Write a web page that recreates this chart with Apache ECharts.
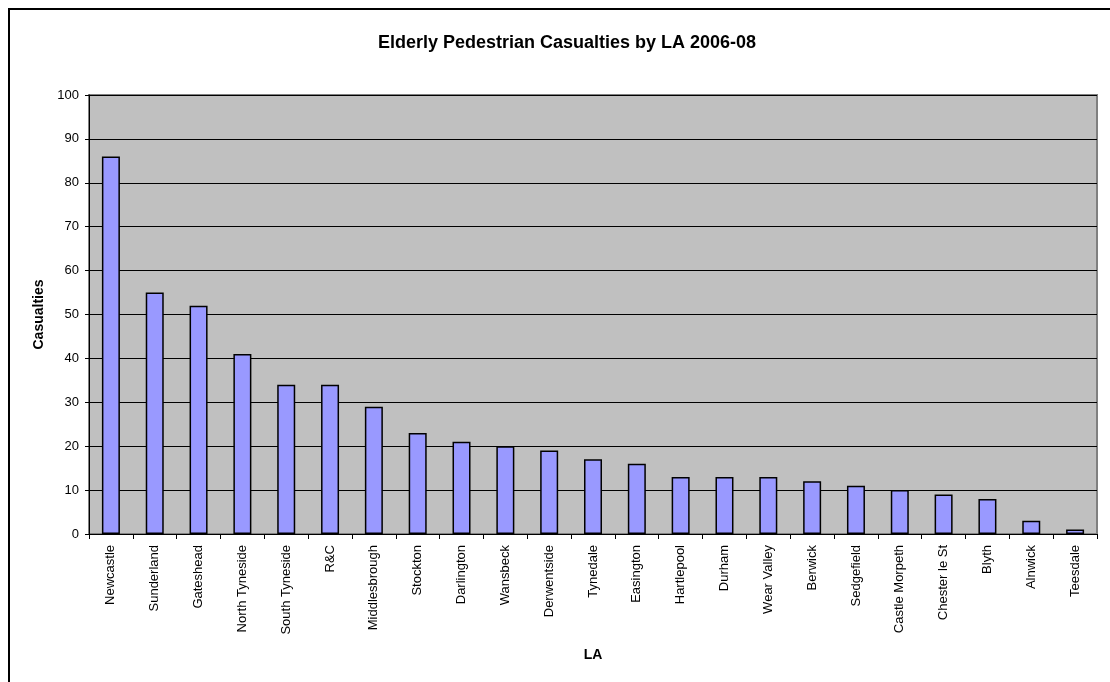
<!DOCTYPE html>
<html>
<head>
<meta charset="utf-8">
<title>Elderly Pedestrian Casualties by LA 2006-08</title>
<script src="https://cdn.jsdelivr.net/npm/echarts@6/dist/echarts.min.js"></script>
<style>
  html, body { margin: 0; padding: 0; background: #ffffff; }
  #chart { width: 1110px; height: 682px; }
</style>
</head>
<body>
<div id="chart"></div>
<script>
// Local authorities, ordered by casualty count
const areas = [
  'Newcastle', 'Sunderland', 'Gateshead', 'North Tyneside', 'South Tyneside',
  'R&C', 'Middlesbrough', 'Stockton', 'Darlington', 'Wansbeck', 'Derwentside',
  'Tynedale', 'Easington', 'Hartlepool', 'Durham', 'Wear Valley', 'Berwick',
  'Sedgefield', 'Castle Morpeth', 'Chester le St', 'Blyth', 'Alnwick', 'Teesdale'
];

// Elderly pedestrian casualties, 2006-08
const casualties = [
  86, 55, 52, 41, 34, 34, 29, 23, 21, 20, 19,
  17, 16, 13, 13, 13, 12, 11, 10, 9, 8, 3, 1
];

const yMin = 0;
const yMax = 100;
const yStep = 10;

const FONT = '"Liberation Sans", Arial, sans-serif';

const chart = echarts.init(document.getElementById('chart'), null, { renderer: 'canvas' });

chart.setOption({
  animation: false,
  backgroundColor: '#ffffff',
  textStyle: { fontFamily: FONT },
  title: {
    text: 'Elderly Pedestrian Casualties by LA 2006-08',
    left: 562,
    top: 29,
    textAlign: 'center',
    textStyle: { fontFamily: FONT, fontSize: 18, fontWeight: 'bold', color: '#000' }
  },
  graphic: [
    {
      // outer chart frame
      type: 'rect',
      shape: { x: 9, y: 9, width: 1200, height: 800 },
      style: { fill: 'none', stroke: '#000', lineWidth: 2 },
      silent: true,
      z: 100
    }
  ],
  grid: {
    left: 89,
    right: 13,
    top: 95,
    bottom: 148,
    show: true,
    backgroundColor: '#C0C0C0',
    borderColor: '#808080',
    borderWidth: 2
  },
  xAxis: {
    type: 'category',
    data: areas,
    name: 'LA',
    nameLocation: 'middle',
    nameGap: 114,
    nameTextStyle: { fontFamily: FONT, fontSize: 14, fontWeight: 'bold', color: '#000' },
    axisLine: { show: true, lineStyle: { color: '#000', width: 1 } },
    axisTick: { show: true, alignWithLabel: false, length: 5, lineStyle: { color: '#000' } },
    axisLabel: {
      rotate: 90,
      interval: 0,
      margin: 11,
      fontFamily: FONT,
      fontSize: 13,
      color: '#000'
    },
    splitLine: { show: false }
  },
  yAxis: {
    type: 'value',
    min: yMin,
    max: yMax,
    interval: yStep,
    name: 'Casualties',
    nameLocation: 'middle',
    nameGap: 42,
    nameRotate: 90,
    nameTextStyle: { fontFamily: FONT, fontSize: 14, fontWeight: 'bold', color: '#000' },
    axisLine: { show: true, lineStyle: { color: '#000', width: 1 } },
    axisTick: { show: true, length: 4, lineStyle: { color: '#000' } },
    axisLabel: { fontFamily: FONT, fontSize: 13, color: '#000', margin: 10 },
    splitLine: { show: true, lineStyle: { color: '#000', width: 1 } }
  },
  series: [
    {
      type: 'bar',
      data: casualties,
      barWidth: 18,
      itemStyle: { color: '#9999FF', borderColor: '#000', borderWidth: 1.5 },
      z: 3
    }
  ]
});
</script>
</body>
</html>
